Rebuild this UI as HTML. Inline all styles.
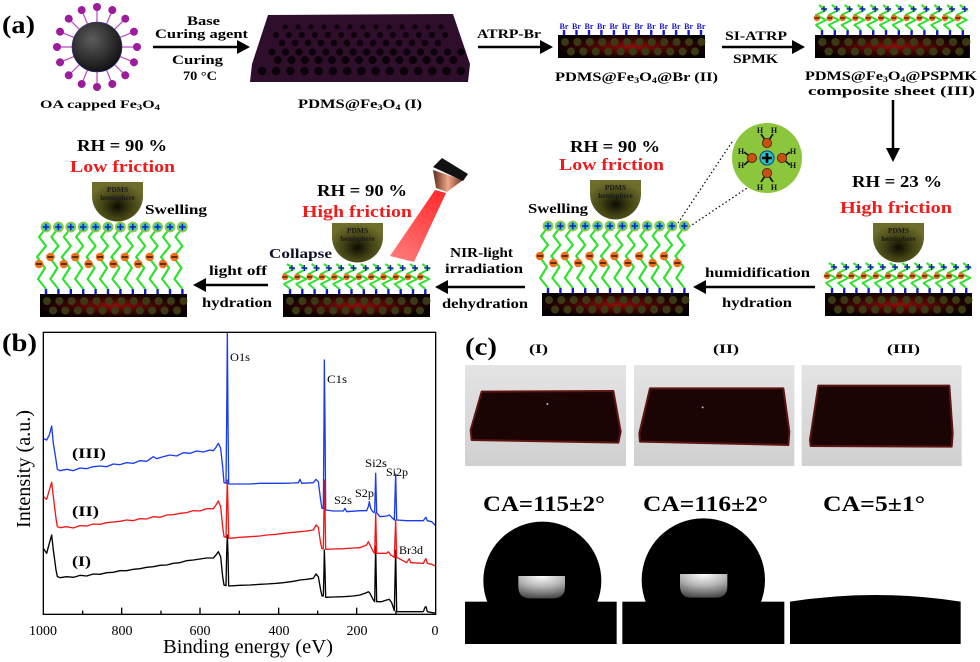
<!DOCTYPE html>
<html><head><meta charset="utf-8"><style>
html,body{margin:0;padding:0;background:#fff;}
svg{display:block;}
text{font-family:"Liberation Serif",serif;}
.b{font-weight:bold;}
</style></head><body>
<svg width="980" height="662" viewBox="0 0 980 662" xmlns="http://www.w3.org/2000/svg">
<defs>
 <radialGradient id="np" cx="0.4" cy="0.35" r="0.7"><stop offset="0" stop-color="#5c5c5c"/><stop offset="1" stop-color="#0e0e0e"/></radialGradient>
 <radialGradient id="slabg" cx="0.5" cy="0.5" r="0.55"><stop offset="0" stop-color="#900c0c"/><stop offset="0.55" stop-color="#3c0404"/><stop offset="1" stop-color="#060000"/></radialGradient>
 <radialGradient id="hemig" cx="0.5" cy="0.62" r="0.6"><stop offset="0" stop-color="#0c0c00"/><stop offset="0.45" stop-color="#404014"/><stop offset="1" stop-color="#6e6e2c"/></radialGradient>
 <linearGradient id="copper" x1="0" y1="0" x2="1" y2="0"><stop offset="0" stop-color="#5a2a18"/><stop offset="0.5" stop-color="#f0a888"/><stop offset="1" stop-color="#6a3220"/></linearGradient>
 <linearGradient id="beam" gradientUnits="userSpaceOnUse" x1="440" y1="191" x2="402" y2="260"><stop offset="0" stop-color="#ff1a1a"/><stop offset="1" stop-color="#ff6a6a"/></linearGradient>
 <linearGradient id="photo" x1="0" y1="0" x2="0" y2="1"><stop offset="0" stop-color="#e4e4e4"/><stop offset="1" stop-color="#d0d0d0"/></linearGradient>
 <radialGradient id="hl" cx="0.5" cy="0" r="1"><stop offset="0" stop-color="#ffffff"/><stop offset="0.5" stop-color="#b4b4b4"/><stop offset="1" stop-color="#4a4a4a"/></radialGradient>
 <clipPath id="axclip"><rect x="130" y="37" width="1177" height="846"/></clipPath>
 <g id="lig"><line x1="0" y1="-25" x2="0" y2="-37" stroke="#c050c0" stroke-width="1.3"/><circle cx="0" cy="-40" r="4" fill="#9c1c9c"/></g>
 <g id="slab"><rect width="147" height="23" fill="url(#slabg)"/><line x1="7" y1="7" x2="146" y2="7" stroke="#3a3914" stroke-width="8" stroke-linecap="round" stroke-dasharray="0 12.4"/><line x1="13" y1="16.5" x2="146" y2="16.5" stroke="#3a3914" stroke-width="8" stroke-linecap="round" stroke-dasharray="0 12.4"/></g>
 <g id="csA"><rect x="-1.2" y="-5" width="2.4" height="5" fill="#1818d0"/><polyline points="0,-5 -8,-15 -1,-26 -9,-37 0,-48 -7,-57 0,-66" fill="none" stroke="#2ee22e" stroke-width="2.2" stroke-linejoin="round"/><circle cx="-8" cy="-37" r="4.3" fill="#f07018"/><line x1="-11" y1="-37" x2="-5" y2="-37" stroke="#000" stroke-width="1.2"/><circle cx="0" cy="-67" r="5.4" fill="#92c83a"/><circle cx="0" cy="-67" r="3.7" fill="#30c8dc"/><path d="M-3.2,-67h6.4M0,-70.2v6.4" stroke="#1020a8" stroke-width="1.5"/></g>
 <g id="csB"><rect x="-1.2" y="-5" width="2.4" height="5" fill="#1818d0"/><polyline points="0,-5 -8,-15 -1,-26 -9,-37 0,-48 -7,-57 0,-66" fill="none" stroke="#2ee22e" stroke-width="2.2" stroke-linejoin="round"/><circle cx="-7" cy="-30" r="4.3" fill="#f07018"/><line x1="-10" y1="-30" x2="-4" y2="-30" stroke="#000" stroke-width="1.2"/><circle cx="0" cy="-67" r="5.4" fill="#92c83a"/><circle cx="0" cy="-67" r="3.7" fill="#30c8dc"/><path d="M-3.2,-67h6.4M0,-70.2v6.4" stroke="#1020a8" stroke-width="1.5"/></g>
 <g id="cc"><rect x="-1.2" y="-5" width="2.4" height="5" fill="#1818d0"/><polyline points="0,-5 -6,-10 4,-15 -6,-20 4,-25 -3,-30" fill="none" stroke="#2ee22e" stroke-width="2" stroke-linejoin="round"/><circle cx="-5" cy="-17" r="3.2" fill="#f07018"/><line x1="-7.5" y1="-17" x2="-2.5" y2="-17" stroke="#000" stroke-width="1"/><path d="M-1,-26h6M2,-29v6" stroke="#1020b0" stroke-width="1.4"/></g>
 <path id="hemi" d="M0,0H51V14A25.5,25.5 0 0 1 0,14Z" fill="url(#hemig)"/>
</defs>

<!-- ================= (a) top row ================= -->
<text x="2" y="33" font-size="25" class="b" textLength="33" lengthAdjust="spacingAndGlyphs">(a)</text>

<!-- nanoparticle -->
<g transform="translate(97,47)">
 <use href="#lig" transform="rotate(0)"/><use href="#lig" transform="rotate(22.5)"/><use href="#lig" transform="rotate(45)"/><use href="#lig" transform="rotate(67.5)"/>
 <use href="#lig" transform="rotate(90)"/><use href="#lig" transform="rotate(112.5)"/><use href="#lig" transform="rotate(135)"/><use href="#lig" transform="rotate(157.5)"/>
 <use href="#lig" transform="rotate(180)"/><use href="#lig" transform="rotate(202.5)"/><use href="#lig" transform="rotate(225)"/><use href="#lig" transform="rotate(247.5)"/>
 <use href="#lig" transform="rotate(270)"/><use href="#lig" transform="rotate(292.5)"/><use href="#lig" transform="rotate(315)"/><use href="#lig" transform="rotate(337.5)"/>
 <circle cx="0" cy="0" r="25" fill="url(#np)" stroke="#3030a0" stroke-width="0.6"/>
</g>
<text x="40" y="108" font-size="12" class="b" textLength="120" lengthAdjust="spacingAndGlyphs">OA capped Fe<tspan font-size="8" dy="2">3</tspan><tspan dy="-2">O</tspan><tspan font-size="8" dy="2">4</tspan></text>

<!-- arrow 1 -->
<text x="187" y="25" font-size="13" class="b" textLength="33" lengthAdjust="spacingAndGlyphs">Base</text>
<text x="155" y="38" font-size="13" class="b" textLength="93" lengthAdjust="spacingAndGlyphs">Curing agent</text>
<line x1="153" y1="47" x2="240" y2="47" stroke="#000" stroke-width="2.5"/>
<polygon points="237,40 250,47 237,54" fill="#000"/>
<text x="172" y="64" font-size="13" class="b" textLength="51" lengthAdjust="spacingAndGlyphs">Curing</text>
<text x="183" y="80" font-size="13" class="b" textLength="34" lengthAdjust="spacingAndGlyphs">70 °C</text>

<!-- slab I -->
<polygon points="268,15 453,14 470,64 468,82 250,82 252,64" fill="#2e0e2a"/>
<line x1="285" y1="27" x2="446" y2="27" stroke="#0c020a" stroke-width="5" stroke-linecap="round" stroke-dasharray="0 13"/>
<line x1="276" y1="35" x2="452" y2="35" stroke="#0c020a" stroke-width="6" stroke-linecap="round" stroke-dasharray="0 13"/>
<line x1="282" y1="43" x2="450" y2="43" stroke="#0c020a" stroke-width="6.6" stroke-linecap="round" stroke-dasharray="0 13"/>
<line x1="272" y1="52" x2="462" y2="52" stroke="#0c020a" stroke-width="7.2" stroke-linecap="round" stroke-dasharray="0 13.5"/>
<line x1="278" y1="60" x2="458" y2="60" stroke="#0c020a" stroke-width="8" stroke-linecap="round" stroke-dasharray="0 13.5"/>
<line x1="262" y1="71" x2="462" y2="71" stroke="#0c020a" stroke-width="8.6" stroke-linecap="round" stroke-dasharray="0 14.2"/>
<text x="298" y="108" font-size="13" class="b" textLength="124" lengthAdjust="spacingAndGlyphs">PDMS@Fe<tspan font-size="8" dy="2">3</tspan><tspan dy="-2">O</tspan><tspan font-size="8" dy="2">4</tspan><tspan dy="-2"> (I)</tspan></text>

<!-- arrow 2 -->
<text x="477" y="38" font-size="13" class="b" textLength="64" lengthAdjust="spacingAndGlyphs">ATRP-Br</text>
<line x1="478" y1="47" x2="543" y2="47" stroke="#000" stroke-width="2.5"/>
<polygon points="540,40 553,47 540,54" fill="#000"/>

<!-- slab II -->
<use href="#slab" x="558" y="35"/>
<g fill="#1818d0">
<rect x="562.8" y="30" width="2.4" height="5"/><rect x="575.3" y="30" width="2.4" height="5"/><rect x="587.8" y="30" width="2.4" height="5"/><rect x="600.2" y="30" width="2.4" height="5"/><rect x="612.7" y="30" width="2.4" height="5"/><rect x="625.1" y="30" width="2.4" height="5"/><rect x="637.6" y="30" width="2.4" height="5"/><rect x="650" y="30" width="2.4" height="5"/><rect x="662.5" y="30" width="2.4" height="5"/><rect x="674.9" y="30" width="2.4" height="5"/><rect x="687.4" y="30" width="2.4" height="5"/><rect x="699.8" y="30" width="2.4" height="5"/>
</g>
<g font-size="8" class="b" fill="#1818d0" text-anchor="middle">
<text x="564" y="29">Br</text><text x="576.5" y="29">Br</text><text x="589" y="29">Br</text><text x="601.4" y="29">Br</text><text x="613.9" y="29">Br</text><text x="626.3" y="29">Br</text><text x="638.8" y="29">Br</text><text x="651.2" y="29">Br</text><text x="663.7" y="29">Br</text><text x="676.1" y="29">Br</text><text x="688.6" y="29">Br</text><text x="701" y="29">Br</text>
</g>
<text x="555" y="81" font-size="13" class="b" textLength="163" lengthAdjust="spacingAndGlyphs">PDMS@Fe<tspan font-size="8" dy="2">3</tspan><tspan dy="-2">O</tspan><tspan font-size="8" dy="2">4</tspan><tspan dy="-2">@Br (II)</tspan></text>

<!-- arrow 3 -->
<text x="725" y="40" font-size="13" class="b" textLength="62" lengthAdjust="spacingAndGlyphs">SI-ATRP</text>
<line x1="722" y1="47" x2="795" y2="47" stroke="#000" stroke-width="2.5"/>
<polygon points="792,40 805,47 792,54" fill="#000"/>
<text x="733" y="63" font-size="13" class="b" textLength="45" lengthAdjust="spacingAndGlyphs">SPMK</text>

<!-- slab III -->
<use href="#slab" transform="translate(815,35) scale(1.054,1)"/>
<use href="#cc" x="822" y="35"/><use href="#cc" x="834.8" y="35"/><use href="#cc" x="847.6" y="35"/><use href="#cc" x="860.4" y="35"/><use href="#cc" x="873.2" y="35"/><use href="#cc" x="886" y="35"/><use href="#cc" x="898.8" y="35"/><use href="#cc" x="911.6" y="35"/><use href="#cc" x="924.4" y="35"/><use href="#cc" x="937.2" y="35"/><use href="#cc" x="950" y="35"/><use href="#cc" x="962.8" y="35"/>
<text x="805" y="80" font-size="13" class="b" textLength="172" lengthAdjust="spacingAndGlyphs">PDMS@Fe<tspan font-size="8" dy="2">3</tspan><tspan dy="-2">O</tspan><tspan font-size="8" dy="2">4</tspan><tspan dy="-2">@PSPMK</tspan></text>
<text x="808" y="95" font-size="13" class="b" textLength="167" lengthAdjust="spacingAndGlyphs">composite sheet (III)</text>

<!-- down arrow -->
<line x1="893" y1="100" x2="893" y2="150" stroke="#000" stroke-width="2.5"/>
<polygon points="886,148 893,162 900,148" fill="#000"/>

<!-- ================= (a) row 2 ================= -->
<!-- left swollen panel -->
<text x="77" y="151" font-size="17" class="b" textLength="90" lengthAdjust="spacingAndGlyphs">RH = 90 %</text>
<text x="70" y="172" font-size="17" class="b" fill="#ee1c1c" textLength="105" lengthAdjust="spacingAndGlyphs">Low friction</text>
<use href="#hemi" x="92" y="182"/>
<text x="117.5" y="192" font-size="7.5" class="b" fill="#1a1a1a" text-anchor="middle">PDMS</text>
<text x="117.5" y="200" font-size="7" class="b" fill="#1a1a1a" text-anchor="middle">hemisphere</text>
<text x="145" y="214" font-size="14" class="b" textLength="62" lengthAdjust="spacingAndGlyphs">Swelling</text>
<use href="#slab" x="40" y="294"/>
<use href="#csB" x="46" y="294"/><use href="#csA" x="58.4" y="294"/><use href="#csB" x="70.8" y="294"/><use href="#csA" x="83.2" y="294"/><use href="#csB" x="95.6" y="294"/><use href="#csA" x="108" y="294"/><use href="#csB" x="120.4" y="294"/><use href="#csA" x="132.8" y="294"/><use href="#csB" x="145.2" y="294"/><use href="#csA" x="157.6" y="294"/><use href="#csB" x="170" y="294"/><use href="#csA" x="182.4" y="294"/>

<!-- light off arrow -->
<text x="209" y="275" font-size="14" class="b" textLength="58" lengthAdjust="spacingAndGlyphs">light off</text>
<line x1="204" y1="285" x2="268" y2="285" stroke="#000" stroke-width="2.5"/>
<polygon points="206,278 193,285 206,292" fill="#000"/>
<text x="202" y="307" font-size="14" class="b" textLength="70" lengthAdjust="spacingAndGlyphs">hydration</text>

<!-- mid-left collapsed panel -->
<text x="317" y="196" font-size="17" class="b" textLength="90" lengthAdjust="spacingAndGlyphs">RH = 90 %</text>
<text x="302" y="217" font-size="17" class="b" fill="#ee1c1c" textLength="110" lengthAdjust="spacingAndGlyphs">High friction</text>
<polygon points="435,190 446,193 414,262 390,256" fill="url(#beam)" opacity="0.92"/>
<polygon points="433,170 463,180 447,192 436,188" fill="url(#copper)"/>
<polygon points="433,167 442,158 468,174 463,181" fill="#111"/>
<use href="#hemi" x="332" y="223"/>
<text x="357.5" y="233" font-size="7.5" class="b" fill="#1a1a1a" text-anchor="middle">PDMS</text>
<text x="357.5" y="241" font-size="7" class="b" fill="#1a1a1a" text-anchor="middle">hemisphere</text>
<text x="269" y="258" font-size="14" class="b" fill="#10102a" textLength="63" lengthAdjust="spacingAndGlyphs">Collapse</text>
<use href="#slab" x="283" y="294"/>
<use href="#cc" x="290" y="294"/><use href="#cc" x="302.3" y="294"/><use href="#cc" x="314.6" y="294"/><use href="#cc" x="326.9" y="294"/><use href="#cc" x="339.2" y="294"/><use href="#cc" x="351.5" y="294"/><use href="#cc" x="363.8" y="294"/><use href="#cc" x="376.1" y="294"/><use href="#cc" x="388.4" y="294"/><use href="#cc" x="400.7" y="294"/><use href="#cc" x="413" y="294"/><use href="#cc" x="425.3" y="294"/>

<!-- NIR arrow -->
<text x="450" y="257" font-size="14" class="b" textLength="63" lengthAdjust="spacingAndGlyphs">NIR-light</text>
<text x="445" y="273" font-size="14" class="b" textLength="78" lengthAdjust="spacingAndGlyphs">irradiation</text>
<line x1="446" y1="287" x2="525" y2="287" stroke="#000" stroke-width="2.5"/>
<polygon points="448,280 435,287 448,294" fill="#000"/>
<text x="442" y="308" font-size="14" class="b" textLength="86" lengthAdjust="spacingAndGlyphs">dehydration</text>

<!-- mid-right swollen panel -->
<text x="570" y="152" font-size="17" class="b" textLength="90" lengthAdjust="spacingAndGlyphs">RH = 90 %</text>
<text x="559" y="170" font-size="17" class="b" fill="#ee1c1c" textLength="105" lengthAdjust="spacingAndGlyphs">Low friction</text>
<use href="#hemi" x="590" y="180"/>
<text x="615.5" y="190" font-size="7.5" class="b" fill="#1a1a1a" text-anchor="middle">PDMS</text>
<text x="615.5" y="198" font-size="7" class="b" fill="#1a1a1a" text-anchor="middle">hemisphere</text>
<text x="528" y="213" font-size="14" class="b" textLength="60" lengthAdjust="spacingAndGlyphs">Swelling</text>
<!-- dotted zoom lines -->
<line x1="732" y1="142" x2="678" y2="223" stroke="#000" stroke-width="1.2" stroke-dasharray="1.5 2.5"/>
<line x1="750" y1="186" x2="686" y2="229" stroke="#000" stroke-width="1.2" stroke-dasharray="1.5 2.5"/>
<use href="#slab" x="542" y="293"/>
<use href="#csA" x="548" y="293"/><use href="#csB" x="560.4" y="293"/><use href="#csA" x="572.8" y="293"/><use href="#csB" x="585.2" y="293"/><use href="#csA" x="597.6" y="293"/><use href="#csB" x="610" y="293"/><use href="#csA" x="622.4" y="293"/><use href="#csB" x="634.8" y="293"/><use href="#csA" x="647.2" y="293"/><use href="#csB" x="659.6" y="293"/><use href="#csA" x="672" y="293"/><use href="#csB" x="684.4" y="293"/>

<!-- zoom circle -->
<circle cx="767" cy="158" r="35" fill="#8cc63c"/>
<g stroke="#111" stroke-width="1.6" fill="none">
 <path d="M767,143 L761,134 M767,143 L773,134 M767,173 L761,182 M767,173 L773,182 M752,158 L744,152 M752,158 L744,165 M782,158 L790,152 M782,158 L790,165"/>
</g>
<g fill="#c85010" stroke="#4a1a00" stroke-width="0.8">
 <circle cx="767" cy="143" r="4.6"/><circle cx="767" cy="173" r="4.6"/><circle cx="752" cy="158" r="4.6"/><circle cx="782" cy="158" r="4.6"/>
</g>
<circle cx="767" cy="158" r="7" fill="#28c4c8" stroke="#10508a" stroke-width="1.2"/>
<path d="M762,158h10M767,153v10" stroke="#000" stroke-width="2.6"/>
<g font-size="8" class="b" fill="#111" text-anchor="middle">
 <text x="760" y="133">H</text><text x="774" y="133">H</text><text x="760" y="190">H</text><text x="774" y="190">H</text>
 <text x="741" y="154">H</text><text x="741" y="168">H</text><text x="793" y="154">H</text><text x="793" y="168">H</text>
</g>

<!-- humidification arrow -->
<text x="705" y="277" font-size="14" class="b" textLength="105" lengthAdjust="spacingAndGlyphs">humidification</text>
<line x1="704" y1="287" x2="815" y2="287" stroke="#000" stroke-width="2.5"/>
<polygon points="706,280 693,287 706,294" fill="#000"/>
<text x="722" y="307" font-size="14" class="b" textLength="70" lengthAdjust="spacingAndGlyphs">hydration</text>

<!-- right collapsed panel -->
<text x="852" y="187" font-size="17" class="b" textLength="90" lengthAdjust="spacingAndGlyphs">RH = 23 %</text>
<text x="840" y="213" font-size="17" class="b" fill="#ee1c1c" textLength="112" lengthAdjust="spacingAndGlyphs">High friction</text>
<use href="#hemi" x="873" y="223"/>
<text x="898.5" y="233" font-size="7.5" class="b" fill="#1a1a1a" text-anchor="middle">PDMS</text>
<text x="898.5" y="241" font-size="7" class="b" fill="#1a1a1a" text-anchor="middle">hemisphere</text>
<use href="#slab" x="825" y="293"/>
<use href="#cc" x="832" y="293"/><use href="#cc" x="844.2" y="293"/><use href="#cc" x="856.4" y="293"/><use href="#cc" x="868.6" y="293"/><use href="#cc" x="880.8" y="293"/><use href="#cc" x="893" y="293"/><use href="#cc" x="905.2" y="293"/><use href="#cc" x="917.4" y="293"/><use href="#cc" x="929.6" y="293"/><use href="#cc" x="941.8" y="293"/><use href="#cc" x="954" y="293"/><use href="#cc" x="966.2" y="293"/>

<!-- ================= (b) XPS ================= -->
<text x="2" y="351" font-size="25" class="b" textLength="35" lengthAdjust="spacingAndGlyphs">(b)</text>
<g transform="translate(0,320) scale(0.333333)">
 <g clip-path="url(#axclip)" fill="none" stroke-width="4" stroke-linejoin="round">
  <polyline stroke="#000" points="130,685 140,700 148,670 155,645 160,690 168,750 172,770 180,773 200,770 220,772 240,766 260,768 280,762 300,763 320,758 340,757 360,752 380,752 400,748 420,746 440,742 460,740 480,736 500,735 520,730 540,728 560,722 580,720 600,717 620,714 640,714 648,705 655,695 662,710 668,770 672,795 678,797 680,700 682,645 684,700 686,798 720,796 750,795 780,793 800,792 830,790 850,788 880,784 900,780 920,778 940,775 948,762 955,770 962,810 966,828 970,828 972,750 973,690 975,750 977,832 1000,831 1030,830 1060,828 1080,825 1100,818 1105,815 1110,820 1120,840 1124,845 1127,678 1130,845 1145,845 1160,840 1168,838 1175,848 1183,872 1187,690 1190,875 1230,875 1270,875 1275,862 1278,860 1282,875 1307,880"/>
  <polyline stroke="#f01818" points="130,530 140,538 148,510 155,487 160,530 168,595 172,620 180,623 200,620 220,624 240,617 260,618 280,612 300,613 320,608 340,606 360,604 380,600 400,602 420,596 440,597 460,590 480,592 500,585 520,584 540,580 560,578 580,572 600,573 620,566 640,566 648,555 655,543 662,560 668,620 672,650 678,652 680,560 682,480 684,560 686,655 720,652 750,650 780,648 800,645 830,643 850,640 880,637 900,635 920,633 940,630 948,615 955,622 962,670 966,686 970,686 972,560 973,480 975,560 977,688 1000,687 1030,686 1060,684 1080,683 1100,675 1105,665 1110,675 1120,695 1124,700 1127,580 1130,700 1145,700 1160,700 1165,695 1172,705 1183,712 1187,600 1190,712 1220,728 1225,720 1228,716 1232,728 1270,730 1275,720 1278,716 1282,730 1295,733 1307,738"/>
  <polyline stroke="#1a3cf0" points="130,355 140,360 148,345 155,318 160,370 168,420 172,448 180,452 200,448 220,452 240,444 260,446 280,440 300,438 320,440 340,432 360,434 380,428 400,430 420,422 440,424 460,410 470,416 490,410 510,405 530,408 550,398 570,400 590,393 610,396 630,390 640,392 648,382 655,370 662,385 668,440 672,488 678,490 680,300 682,37 684,300 686,492 720,492 750,492 780,490 800,490 830,490 850,490 880,489 895,488 900,478 905,490 940,488 948,478 955,485 962,540 966,565 970,565 972,300 973,120 975,300 977,570 1000,573 1030,573 1035,565 1040,575 1080,572 1100,572 1105,560 1108,545 1112,565 1118,575 1124,578 1127,460 1130,578 1140,590 1160,588 1168,585 1175,592 1183,600 1187,462 1190,600 1220,602 1270,602 1275,595 1278,592 1282,602 1295,605 1307,617"/>
 </g>
 <rect x="130" y="37" width="1177" height="846" fill="none" stroke="#000" stroke-width="4"/>
 <path d="M365,883v-20M600,883v-20M836,883v-20M1070,883v-20M248,883v-11M483,883v-11M718,883v-11M953,883v-11M1188,883v-11" stroke="#000" stroke-width="4"/>
</g>
<g font-size="14" text-anchor="middle">
 <text x="43" y="635">1000</text><text x="122" y="635">800</text><text x="200" y="635">600</text><text x="279" y="635">400</text><text x="357" y="635">200</text><text x="435" y="635">0</text>
</g>
<text x="163" y="653" font-size="20" textLength="170" lengthAdjust="spacingAndGlyphs">Binding energy (eV)</text>
<text x="30" y="469" font-size="20" text-anchor="middle" transform="rotate(-90,30,469)" textLength="118" lengthAdjust="spacingAndGlyphs">Intensity (a.u.)</text>
<g font-size="12">
 <text x="230" y="361" textLength="20" lengthAdjust="spacingAndGlyphs">O1s</text>
 <text x="327" y="383" textLength="20" lengthAdjust="spacingAndGlyphs">C1s</text>
 <text x="365" y="467" textLength="22" lengthAdjust="spacingAndGlyphs">Si2s</text>
 <text x="386" y="476" textLength="22" lengthAdjust="spacingAndGlyphs">Si2p</text>
 <text x="334" y="504" textLength="18" lengthAdjust="spacingAndGlyphs">S2s</text>
 <text x="355" y="497" textLength="19" lengthAdjust="spacingAndGlyphs">S2p</text>
 <text x="399" y="554" textLength="24" lengthAdjust="spacingAndGlyphs">Br3d</text>
</g>
<g font-size="15" class="b">
 <text x="72" y="458" textLength="34" lengthAdjust="spacingAndGlyphs">(III)</text>
 <text x="72" y="516" textLength="27" lengthAdjust="spacingAndGlyphs">(II)</text>
 <text x="72" y="566" textLength="19" lengthAdjust="spacingAndGlyphs">(I)</text>
</g>

<!-- ================= (c) ================= -->
<text x="465" y="355" font-size="25" class="b" textLength="32" lengthAdjust="spacingAndGlyphs">(c)</text>
<g font-size="13" class="b">
 <text x="529" y="353" textLength="19" lengthAdjust="spacingAndGlyphs">(I)</text>
 <text x="713" y="353" textLength="26" lengthAdjust="spacingAndGlyphs">(II)</text>
 <text x="887" y="353" textLength="33" lengthAdjust="spacingAndGlyphs">(III)</text>
</g>
<g transform="translate(450,320) scale(0.333333)">
 <rect x="45" y="135" width="483" height="303" fill="url(#photo)"/>
 <rect x="552" y="135" width="481" height="303" fill="url(#photo)"/>
 <rect x="1055" y="135" width="480" height="303" fill="url(#photo)"/>
 <g fill="#1a0404" stroke="#5e1410" stroke-width="6" stroke-linejoin="round">
  <polygon points="95,215 490,213 512,335 505,368 65,360 62,330"/>
  <polygon points="600,205 1000,205 1018,335 1015,375 570,365 568,340"/>
  <polygon points="1105,197 1498,197 1508,340 1505,380 1082,378 1080,360"/>
 </g>
 <circle cx="292" cy="252" r="3" fill="#bbb"/>
 <circle cx="758" cy="262" r="3" fill="#bbb"/>
 <!-- contact angle images -->
 <rect x="45" y="845" width="455" height="127" fill="#000"/>
 <rect x="517" y="845" width="486" height="127" fill="#000"/>
 <path d="M1020,972 V845 Q1276,805 1532,845 V972 Z" fill="#000"/>
 <circle cx="277" cy="782" r="177" fill="#000"/>
 <circle cx="760" cy="780" r="185" fill="#000"/>
 <path d="M205,768 H345 V800 Q345,835 310,835 H240 Q205,835 205,800 Z" fill="url(#hl)"/>
 <path d="M690,762 H832 V798 Q832,833 797,833 H725 Q690,833 690,798 Z" fill="url(#hl)"/>
</g>
<g font-size="22" class="b">
 <text x="483" y="511" textLength="122" lengthAdjust="spacingAndGlyphs">CA=115±2°</text>
 <text x="643" y="511" textLength="125" lengthAdjust="spacingAndGlyphs">CA=116±2°</text>
 <text x="823" y="511" textLength="102" lengthAdjust="spacingAndGlyphs">CA=5±1°</text>
</g>
</svg>
</body></html>
